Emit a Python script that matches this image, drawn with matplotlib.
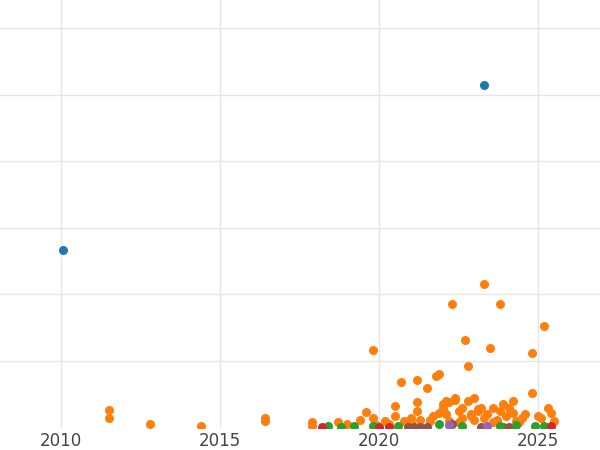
import matplotlib
matplotlib.use("Agg")
import matplotlib.pyplot as plt

# values in "grid units" (no y labels on the reference)
blue_x = [2010.05, 2023.3]
blue_y = [2.67, 5.15]

orange_x = [2011.5, 2011.5, 2012.8, 2014.4, 2016.4, 2016.4, 2017.9, 2017.9, 2018.7, 2019.0,
            2019.4, 2019.6, 2019.8, 2020.2, 2020.5, 2020.7, 2020.8, 2021.0, 2021.2, 2021.2,
            2021.3, 2021.5, 2021.6, 2021.8, 2021.9, 2022.0, 2022.1, 2022.2, 2022.3, 2022.4,
            2022.5, 2022.6, 2022.7, 2022.8, 2022.9, 2023.0, 2023.1, 2023.2, 2023.3, 2023.4,
            2023.5, 2023.6, 2023.8, 2023.9, 2024.0, 2024.2, 2024.3, 2024.5, 2024.8, 2024.8,
            2025.0, 2025.2, 2025.3, 2025.5, 2022.0, 2022.4, 2022.8, 2023.3, 2023.8, 2024.2,
            2021.7, 2022.2, 2022.6, 2023.0, 2023.6, 2024.6, 2025.4, 2020.3, 2019.9, 2021.0,
            2019.8, 2020.5, 2021.2, 2021.6, 2021.9, 2022.1, 2022.5, 2022.9, 2023.1, 2023.7,
            2024.4, 2024.1, 2025.1]
orange_y = [0.26, 0.14, 0.06, 0.03, 0.14, 0.10, 0.08, 0.03, 0.08, 0.05,
            0.12, 0.24, 1.16, 0.10, 0.32, 0.69, 0.10, 0.08, 0.71, 0.38,
            0.12, 0.60, 0.10, 0.78, 0.81, 0.30, 0.20, 0.38, 1.85, 0.42,
            0.25, 0.15, 1.31, 0.93, 0.20, 0.44, 0.25, 0.30, 2.16, 0.20,
            1.19, 0.30, 1.85, 0.35, 0.18, 0.40, 0.10, 0.15, 1.12, 0.52,
            0.18, 1.53, 0.30, 0.10, 0.35, 0.45, 0.40, 0.15, 0.25, 0.22,
            0.18, 0.10, 0.30, 0.12, 0.08, 0.20, 0.22, 0.06, 0.04, 0.15,
            0.14, 0.18, 0.25, 0.12, 0.22, 0.40, 0.08, 0.18, 0.28, 0.12,
            0.08, 0.30, 0.14]

green_x = [2018.4, 2018.8, 2019.2, 2019.8, 2020.6, 2021.9, 2022.6, 2023.8, 2024.3, 2024.9, 2025.2]
green_y = [0.02, 0.01, 0.03, 0.02, 0.02, 0.05, 0.03, 0.02, 0.04, 0.03, 0.02]

red_x = [2018.2, 2020.0, 2020.3, 2025.4]
red_y = [0.01, 0.01, 0.01, 0.02]

brown_x = [2020.9, 2021.1, 2021.3, 2021.5, 2022.3, 2023.2, 2023.9, 2024.1]
brown_y = [0.01, 0.01, 0.01, 0.01, 0.05, 0.01, 0.01, 0.01]

purple_x = [2022.2, 2023.4]
purple_y = [0.04, 0.02]

fig, ax = plt.subplots(figsize=(6, 4.5), dpi=100)
fig.subplots_adjust(left=0, right=1, top=1, bottom=0.05)

ax.scatter(orange_x, orange_y, s=30, color="#ff7f0e", zorder=3)
ax.scatter(brown_x, brown_y, s=30, color="#8c564b", zorder=3)
ax.scatter(purple_x, purple_y, s=30, color="#9467bd", zorder=3)
ax.scatter(green_x, green_y, s=30, color="#2ca02c", zorder=3)
ax.scatter(red_x, red_y, s=30, color="#d62728", zorder=3)
ax.scatter(blue_x, blue_y, s=30, color="#1f77b4", zorder=3)

ax.set_xlim(2008.08, 2026.95)
ax.set_ylim(0, 6.42)
ax.set_xticks([2010, 2015, 2020, 2025])
ax.set_yticks([1, 2, 3, 4, 5, 6])
ax.set_yticklabels([])
ax.tick_params(length=0, labelsize=12, colors="#444444")
ax.grid(True, color="#e6e6e6", linewidth=1)
for s in ax.spines.values():
    s.set_visible(False)

fig.savefig("out.png")
